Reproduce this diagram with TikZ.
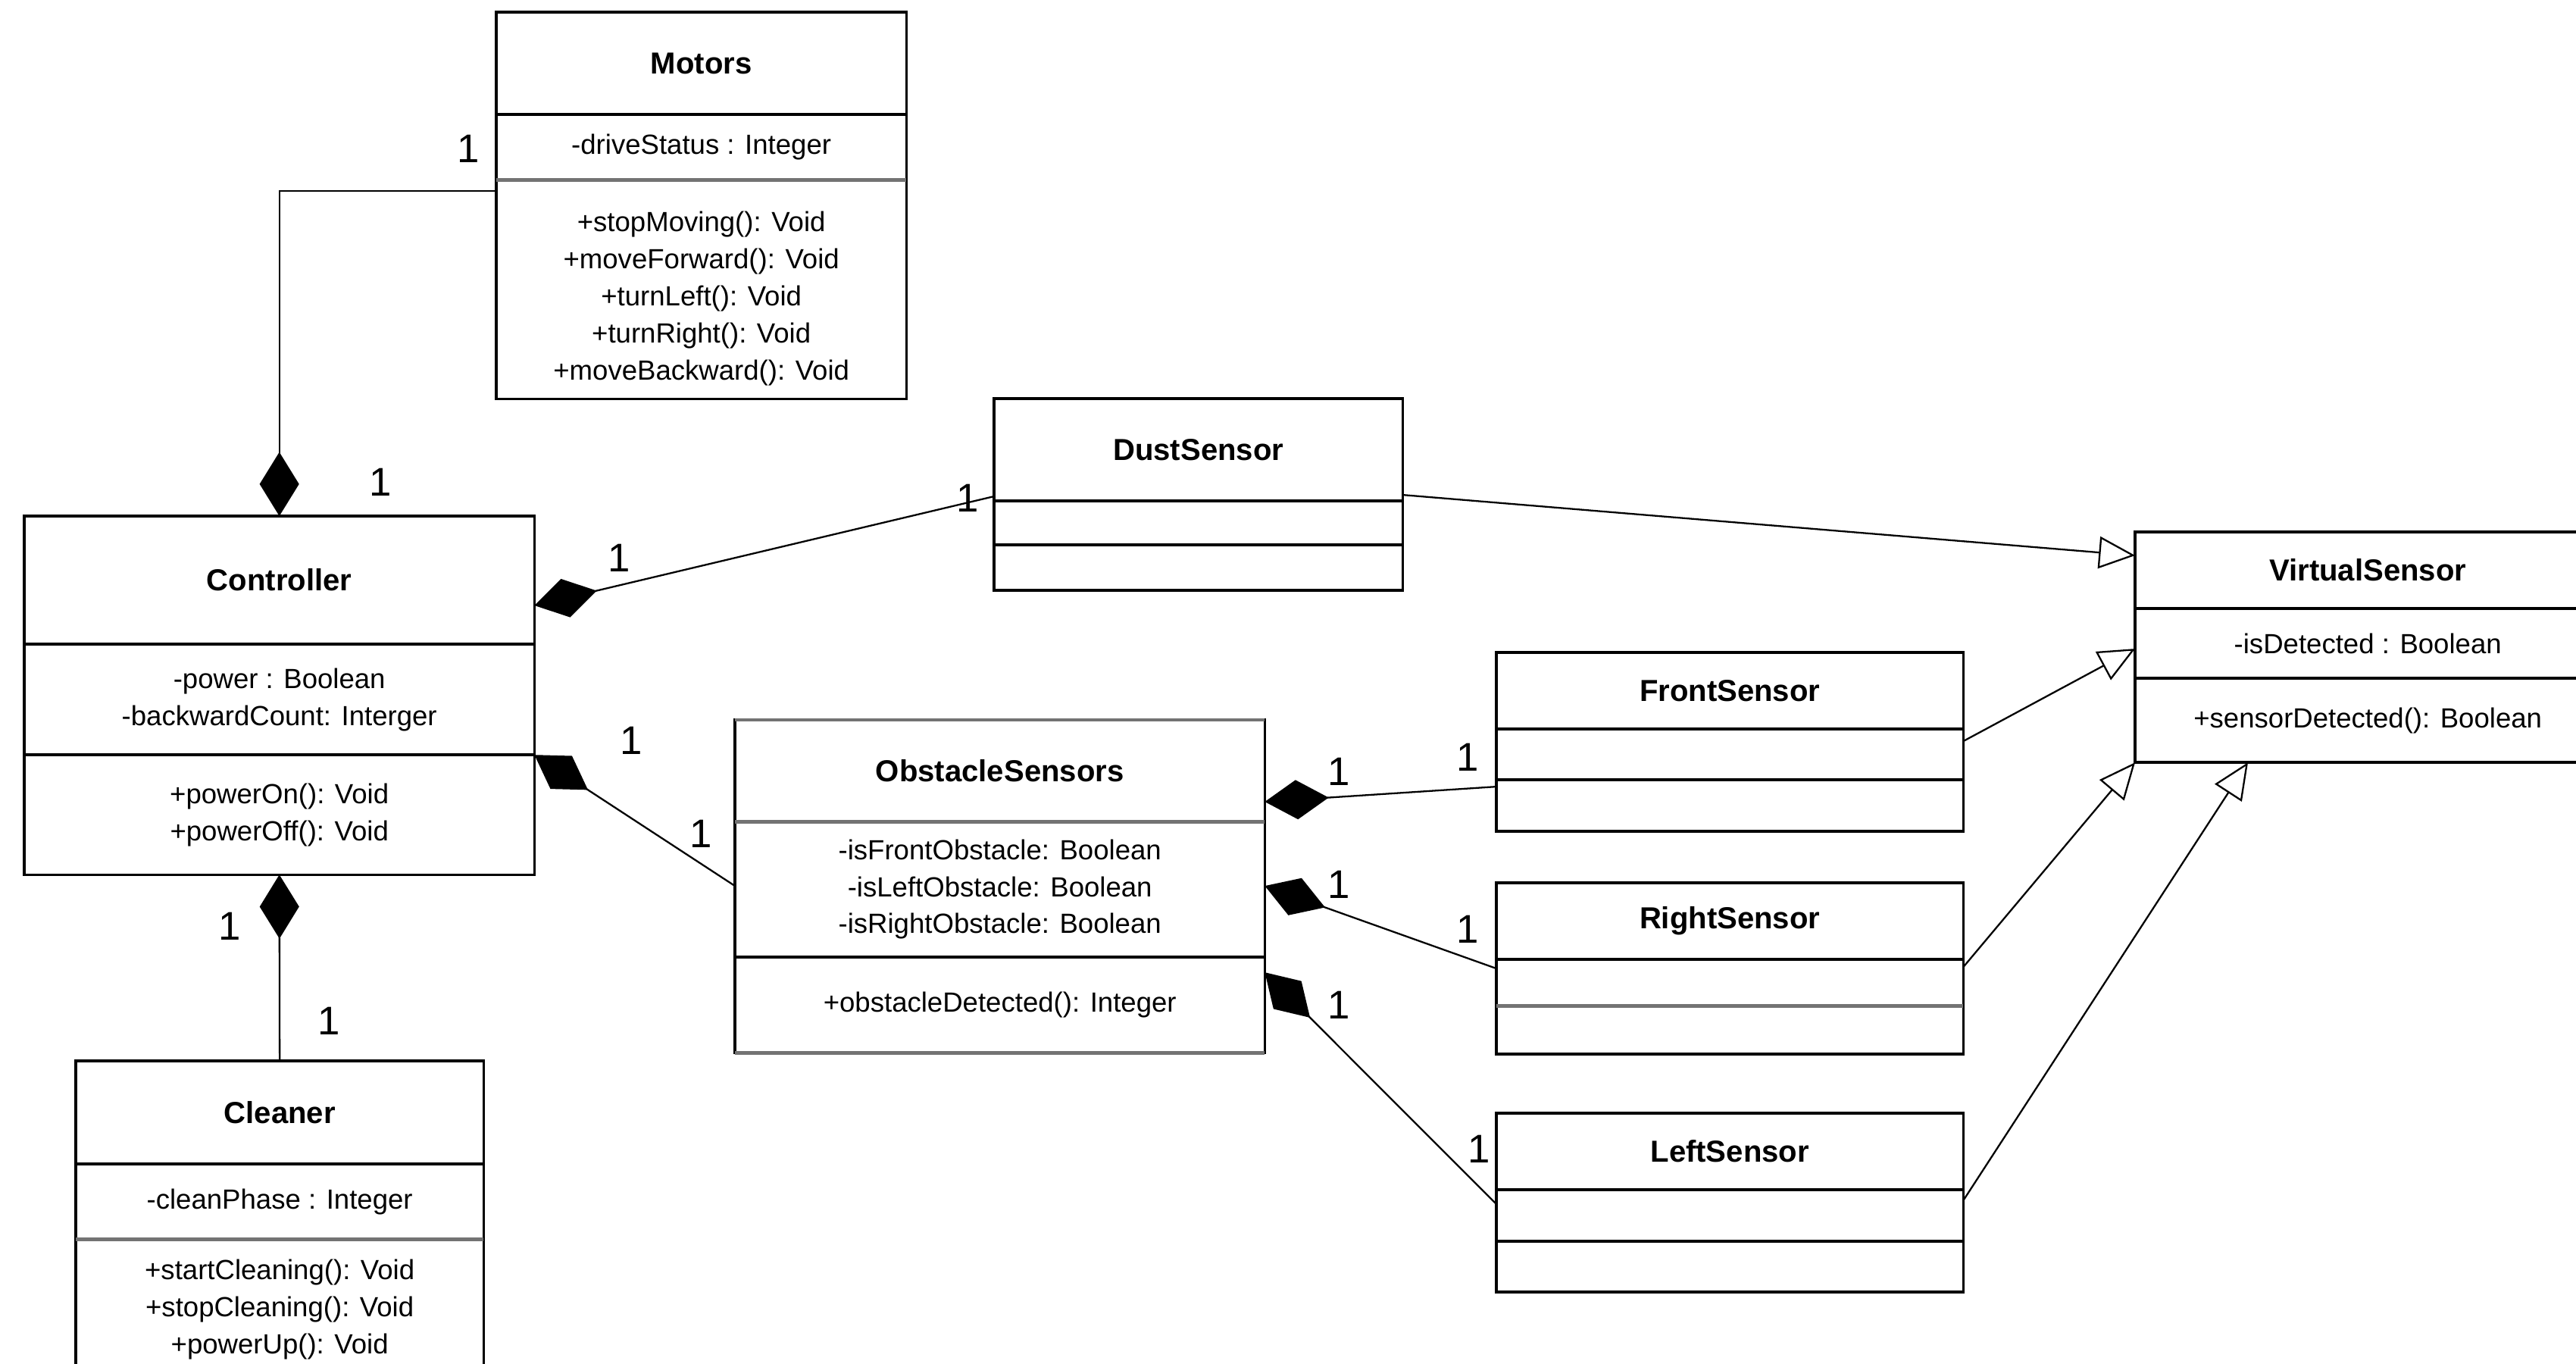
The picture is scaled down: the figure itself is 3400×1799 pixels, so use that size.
\documentclass[tikz,border=0pt]{standalone}
\usepackage{fontspec}
\setmainfont{Liberation Sans}
\usetikzlibrary{arrows.meta,calc}

\tikzset{
  comp/.style={draw, fill=white, line width=1pt, inner sep=0pt, outer sep=0pt,
    anchor=north west, align=center, font=\fontsize{10.4pt}{13.9pt}\selectfont},
  title/.style={comp, font=\bfseries\fontsize{11.4pt}{14pt}\selectfont},
  members/.style={inner sep=0pt, align=center, font=\fontsize{10.4pt}{13.9pt}\selectfont},
  mult/.style={font=\fontsize{15pt}{18pt}\selectfont, inner sep=0pt},
  assoc/.style={line width=0.65pt},
  composition/.style={assoc, {Diamond[length=24pt,width=14.8pt]}-},
  compositionend/.style={assoc, -{Diamond[length=24pt,width=14.8pt]}},
  inherit/.style={assoc, -{Triangle[open,length=13.6pt,width=12pt,fill=white]}},
  fadedsep/.style={line width=1.4pt, draw=black!55},
}

\begin{document}
\begin{tikzpicture}[x=0.01cm, y=-0.01cm]
\useasboundingbox (0,0) rectangle (3400,1799);
\fill[white] (0,0) rectangle (3400,1799);
\clip (0,0) rectangle (3400,1799);

% Motors
\node[title, minimum width=5.41cm, minimum height=1.35cm] (mot1) at (655,16) {Motors};
\node[comp, minimum width=5.41cm, minimum height=0.86cm] (mot2) at (mot1.south west) {-driveStatus : Integer};
\node[comp, minimum width=5.41cm, minimum height=2.89cm] (mot3) at (mot2.south west) {};
\node[members] (mot3txt) at ($(mot3.north)+(0,157)$)
  {+stopMoving(): Void\\+moveForward(): Void\\+turnLeft(): Void\\+turnRight(): Void\\+moveBackward(): Void};

% Controller
\node[title, minimum width=6.73cm, minimum height=1.69cm] (ctl1) at (32,681) {Controller};
\node[comp, minimum width=6.73cm, minimum height=1.46cm] (ctl2) at (ctl1.south west)
  {-power : Boolean\\-backwardCount: Interger};
\node[comp, minimum width=6.73cm, minimum height=1.58cm] (ctl3) at (ctl2.south west)
  {+powerOn(): Void\\+powerOff(): Void};

% Cleaner
\node[title, minimum width=5.38cm, minimum height=1.36cm] (cln1) at (100,1400) {Cleaner};
\node[comp, minimum width=5.38cm, minimum height=0.99cm] (cln2) at (cln1.south west) {-cleanPhase : Integer};
\node[comp, minimum width=5.38cm, minimum height=1.85cm] (cln3) at (cln2.south west)
  {+startCleaning(): Void\\+stopCleaning(): Void\\+powerUp(): Void};

% DustSensor
\node[title, minimum width=5.39cm, minimum height=1.35cm] (dst1) at (1312,526) {DustSensor};
\node[comp, minimum width=5.39cm, minimum height=0.58cm] (dst2) at (dst1.south west) {};
\node[comp, minimum width=5.39cm, minimum height=0.60cm] (dst3) at (dst2.south west) {};

% ObstacleSensors
\node[title, minimum width=6.99cm, minimum height=1.34cm] (obs1) at (970,950) {ObstacleSensors};
\node[comp, minimum width=6.99cm, minimum height=1.79cm] (obs2) at (obs1.south west)
  {-isFrontObstacle: Boolean\\-isLeftObstacle: Boolean\\-isRightObstacle: Boolean};
\node[comp, minimum width=6.99cm, minimum height=1.26cm] (obs3) at (obs2.south west)
  {+obstacleDetected(): Integer};

% FrontSensor
\node[title, minimum width=6.16cm, minimum height=1.01cm] (frt1) at (1975,861) {FrontSensor};
\node[comp, minimum width=6.16cm, minimum height=0.67cm] (frt2) at (frt1.south west) {};
\node[comp, minimum width=6.16cm, minimum height=0.68cm] (frt3) at (frt2.south west) {};

% RightSensor
\node[title, minimum width=6.16cm, minimum height=1.01cm] (rgt1) at (1975,1165) {RightSensor};
\node[comp, minimum width=6.16cm, minimum height=0.61cm] (rgt2) at (rgt1.south west) {};
\node[comp, minimum width=6.16cm, minimum height=0.64cm] (rgt3) at (rgt2.south west) {};

% LeftSensor
\node[title, minimum width=6.16cm, minimum height=1.01cm] (lft1) at (1975,1469) {LeftSensor};
\node[comp, minimum width=6.16cm, minimum height=0.68cm] (lft2) at (lft1.south west) {};
\node[comp, minimum width=6.16cm, minimum height=0.67cm] (lft3) at (lft2.south west) {};

% VirtualSensor
\node[title, minimum width=6.14cm, minimum height=1.01cm] (vrt1) at (2818,702) {VirtualSensor};
\node[comp, minimum width=6.14cm, minimum height=0.92cm] (vrt2) at (vrt1.south west) {-isDetected : Boolean};
\node[comp, minimum width=6.14cm, minimum height=1.11cm] (vrt3) at (vrt2.south west) {+sensorDetected(): Boolean};

% lighter compartment rules
\draw[fadedsep] (mot3.north west) -- (mot3.north east);
\draw[fadedsep] (cln3.north west) -- (cln3.north east);
\draw[fadedsep] (obs1.north west) -- (obs1.north east);
\draw[fadedsep] (obs2.north west) -- (obs2.north east);
\draw[fadedsep] (obs3.south west) -- (obs3.south east);
\draw[fadedsep] (rgt3.north west) -- (rgt3.north east);

% compositions
\draw[compositionend] ($(mot3.north west)+(0,15)$) -| (ctl1.north);
\draw[composition] ($(ctl1.north east)+(0,118)$) -- ($(dst1.north west)+(0,129)$);
\draw[composition] (ctl2.south east) -- ($(obs2.north west)+(0,85)$);
\draw[composition] (ctl3.south) -- (cln1.north);
\draw[composition] ($(obs1.north east)+(0,108)$) -- ($(frt3.north west)+(0,9)$);
\draw[composition] ($(obs2.north east)+(0,85)$) -- ($(rgt2.north west)+(0,12)$);
\draw[composition] ($(obs3.north east)+(0,20)$) -- ($(lft2.north west)+(0,19)$);

% generalisations
\draw[inherit] ($(dst1.south east)+(0,-8)$) -- ($(vrt1.north west)+(0,31)$);
\draw[inherit] ($(frt2.north east)+(0,16)$) -- ($(vrt2.north west)+(0,53)$);
\draw[inherit] ($(rgt2.north east)+(0,10)$) -- (vrt3.south west);
\draw[inherit] ($(lft2.north east)+(0,14)$) -- ($(vrt3.south west)+(149,0)$);

% multiplicities
\node[mult] (m1) at (618,196) {1};
\node[mult] (m2) at (502,636) {1};
\node[mult] (m3) at (817,736) {1};
\node[mult] (m4) at (1277,657) {1};
\node[mult] (m5) at (833,977) {1};
\node[mult] (m6) at (925,1100) {1};
\node[mult] (m7) at (303,1222) {1};
\node[mult] (m8) at (434,1347) {1};
\node[mult] (m9) at (1767,1018) {1};
\node[mult] (m10) at (1937,999) {1};
\node[mult] (m11) at (1767,1167) {1};
\node[mult] (m12) at (1937,1226) {1};
\node[mult] (m13) at (1767,1326) {1};
\node[mult] (m14) at (1952,1516) {1};
\end{tikzpicture}
\end{document}
